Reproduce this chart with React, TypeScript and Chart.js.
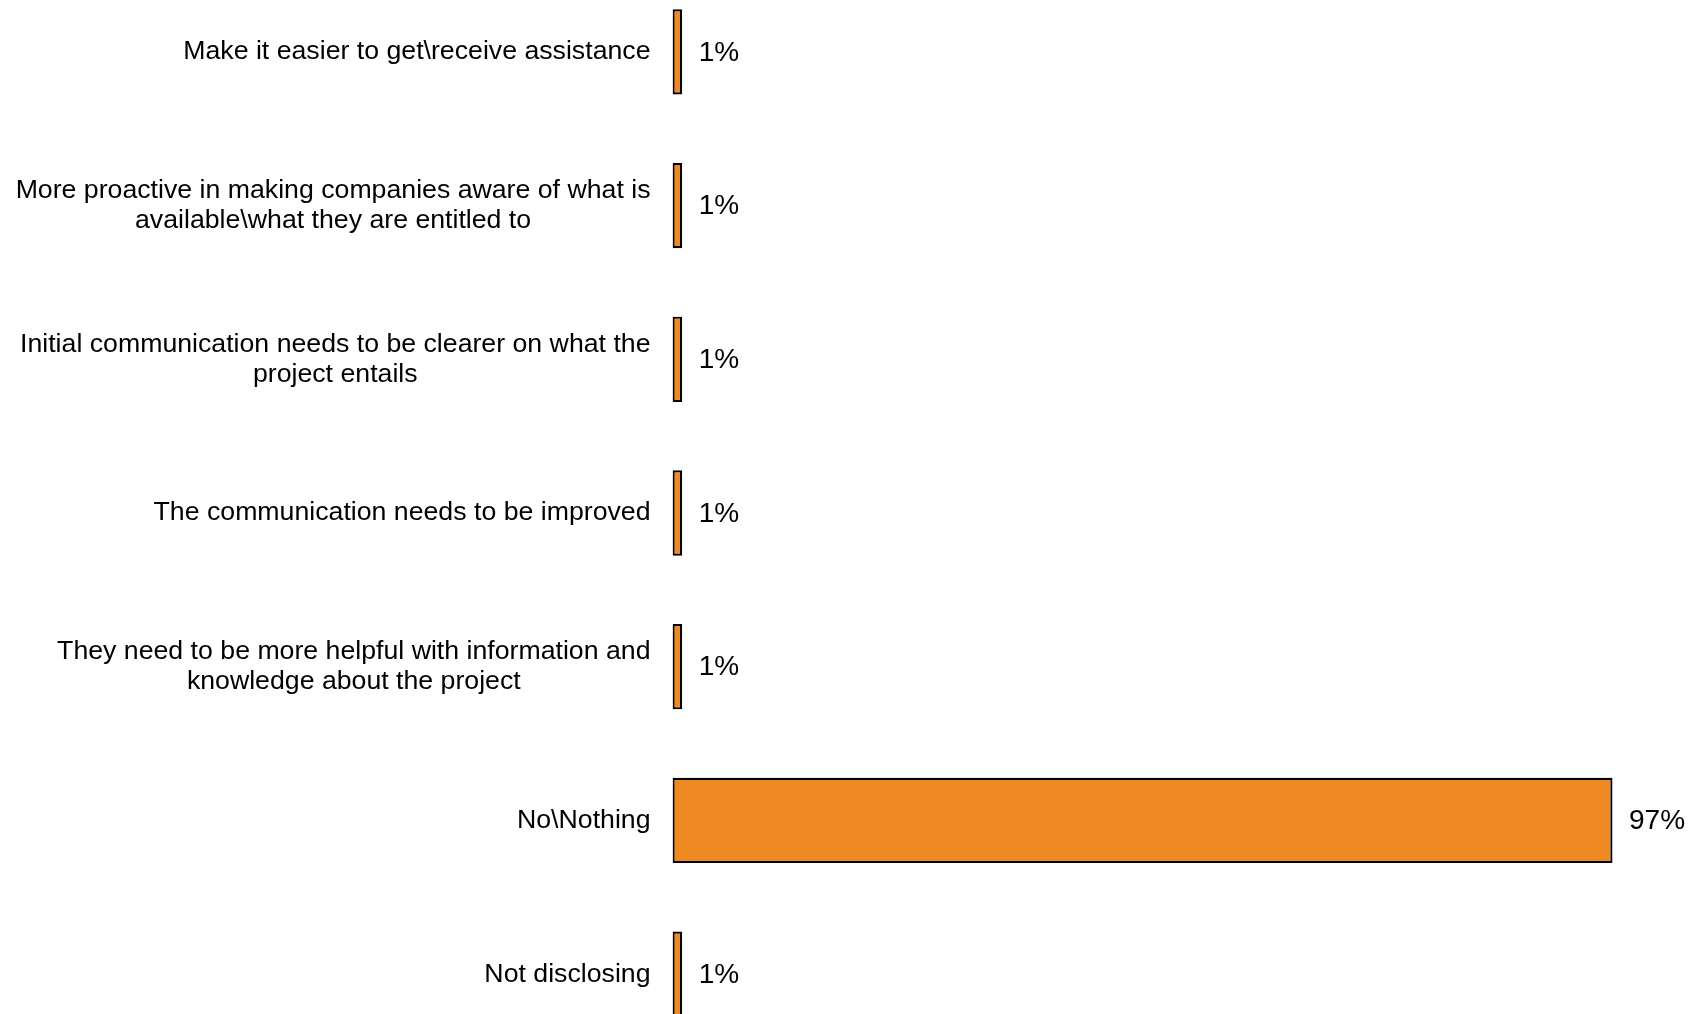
import React, { useEffect, useRef } from "react";
import { Chart, registerables } from "chart.js";

Chart.register(...registerables);

const categories: string[][] = [
  ["Make it easier to get\\receive assistance"],
  ["More proactive in making companies aware of what is", "available\\what they are entitled to"],
  ["Initial communication needs to be clearer on what the", "project entails"],
  ["The communication needs to be improved"],
  ["They need to be more helpful with information and", "knowledge about the project"],
  ["No\\Nothing"],
  ["Not disclosing"],
];
const values: number[] = [1, 1, 1, 1, 1, 97, 1];
const valueLabels: string[] = ["1%", "1%", "1%", "1%", "1%", "97%", "1%"];

const FONT = "26.7px 'Liberation Sans', Arial, sans-serif";
const VALUE_FONT = "28px 'Liberation Sans', Arial, sans-serif";
const LINE_H = 30;
const AXIS_RIGHT = 672.5;
const LABEL_GAP = 22;

const labelPlugin = {
  id: "customLabels",
  afterDatasetsDraw(chart: any) {
    const ctx = chart.ctx;
    const yScale = chart.scales.y;
    const meta = chart.getDatasetMeta(0);
    ctx.save();
    ctx.font = FONT;
    ctx.fillStyle = "#000";
    ctx.textBaseline = "middle";
    categories.forEach((lines, i) => {
      const yc = yScale.getPixelForValue(i);
      const widths = lines.map((l) => ctx.measureText(l).width);
      const maxW = Math.max(...widths);
      const right = chart.chartArea.left - LABEL_GAP;
      const center = right - maxW / 2;
      const y0 = yc - ((lines.length - 1) * LINE_H) / 2;
      ctx.textAlign = "center";
      lines.forEach((l, k) => {
        ctx.fillText(l, center, y0 + k * LINE_H);
      });
    });
    ctx.font = VALUE_FONT;
    ctx.textAlign = "left";
    meta.data.forEach((bar: any, i: number) => {
      ctx.fillText(valueLabels[i], bar.x + 16.5, bar.y + 1);
    });
    ctx.restore();
  },
};

export default function App() {
  const canvasRef = useRef<HTMLCanvasElement | null>(null);

  useEffect(() => {
    document.body.style.margin = "0";
    document.body.style.overflow = "hidden";
    const canvas = canvasRef.current;
    if (!canvas) return;
    const chart = new Chart(canvas, {
      type: "bar",
      data: {
        labels: categories.map((c) => c.join(" ")),
        datasets: [
          {
            data: values,
            backgroundColor: "#EE8A21",
            borderColor: "#000000",
            borderWidth: 2.2,
            borderSkipped: false,
            categoryPercentage: 1,
            barPercentage: 0.555,
          },
        ],
      },
      options: {
        indexAxis: "y",
        animation: false,
        responsive: false,
        maintainAspectRatio: false,
        layout: { padding: { left: 0, right: 53.4, top: 0, bottom: 0 } },
        plugins: {
          legend: { display: false },
          tooltip: { enabled: false },
        },
        scales: {
          x: {
            display: false,
            min: 0,
            max: 100,
          },
          y: {
            display: true,
            grid: { display: false, drawTicks: false },
            border: { display: false },
            ticks: { display: false },
            afterFit: (s: any) => {
              s.width = AXIS_RIGHT;
            },
          },
        },
      },
      plugins: [labelPlugin],
    });
    return () => chart.destroy();
  }, []);

  return (
    <div style={{ position: "absolute", left: 0, top: -25, width: 1695, height: 1076, overflow: "hidden" }}>
      <canvas ref={canvasRef} width={1695} height={1076} style={{ display: "block" }} />
    </div>
  );
}
